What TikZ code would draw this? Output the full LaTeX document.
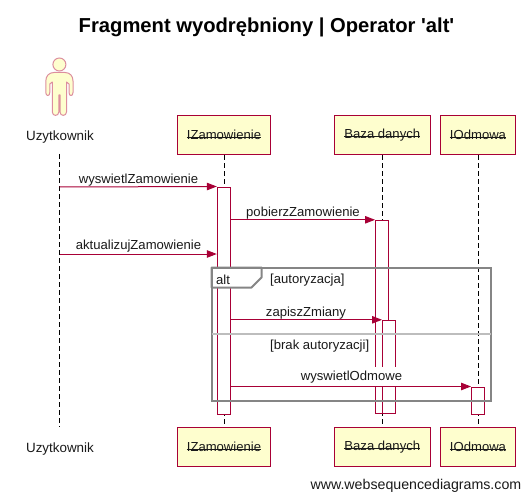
\documentclass[tikz,border=0pt]{standalone}
\usepackage{xcolor}
\usepackage{fontspec}
\setmainfont{Liberation Sans}
\usetikzlibrary{arrows.meta,positioning}

\definecolor{seqline}{HTML}{A80036}
\definecolor{seqfill}{HTML}{FEFECE}
\definecolor{actorline}{HTML}{DC8E9E}
\definecolor{framegray}{HTML}{858585}
\definecolor{splitgray}{HTML}{BDBDBD}

\newcommand{\strikelabel}[1]{\setbox0\hbox{#1}\rlap{\rule[1.5pt]{\wd0}{0.9pt}}\box0}

\tikzset{
    txt/.style = {inner sep=0pt,font=\fontsize{13.1}{15}\selectfont,text=black!90},
    usertxt/.style = {txt,font=\fontsize{13.4}{15}\selectfont},
    objbox/.style = {draw=seqline,fill=seqfill,line width=1pt,minimum height=39pt,inner sep=0pt,
        font=\fontsize{13.1}{15}\selectfont,text=black!90},
    lifeline/.style = {draw=black,line width=1pt,dash pattern=on 4.5pt off 3.5pt},
    actbar/.style = {draw=seqline,fill=white,line width=1pt,minimum width=13pt,inner sep=0pt},
    msg/.style = {draw=seqline,line width=1pt,-{Triangle[length=10pt,width=7.5pt,fill=seqline]}}
}

\begin{document}
\begin{tikzpicture}[x=1pt,y=-1pt]
    \useasboundingbox (0,0) rectangle (530,500);

    \node[font=\fontsize{20.2}{24}\bfseries\selectfont] (title) at (266.5,27) {Fragment wyodrębniony | Operator \textquotesingle alt\textquotesingle};

    % actor
    \draw[draw=actorline,fill=seqfill,line width=1pt]
        (59.4,64.5) circle (6.5);
    \draw[draw=actorline,fill=seqfill,line width=1pt,line join=round]
        (54,72.5) -- (65,72.5) .. controls (70,72.5) and (73,76) .. (73,81)
        -- (73,92.5) .. controls (73,96.5) and (69,96.5) .. (69,92.5) -- (69,84) -- (66.5,82)
        -- (66.5,112) .. controls (66.5,116.5) and (60,116.5) .. (60,112) -- (60,95) -- (58.8,95) -- (58.8,112)
        .. controls (58.8,116.5) and (52.3,116.5) .. (52.3,112) -- (52.3,82) -- (49.8,84) -- (49.8,92.5)
        .. controls (49.8,96.5) and (45.8,96.5) .. (45.8,92.5) -- (45.8,81) .. controls (45.8,76) and (49,72.5) .. (54,72.5) -- cycle;

    % top row
    \node[usertxt] (userTop) at (60,137) {Uzytkownik};
    \node[objbox,minimum width=93pt] (zamTop) at (224,135) {\strikelabel{IZamowienie}};
    \node[objbox,minimum width=96pt] (bazaTop) at (382.3,135) {\strikelabel{Baza danych}};
    \node[objbox,minimum width=75pt] (odmTop) at (478,135) {\strikelabel{IOdmowa}};

    % bottom row
    \node[usertxt] (userBot) at (60,449) {Uzytkownik};
    \node[objbox,minimum width=93pt] (zamBot) at (224,447) {\strikelabel{IZamowienie}};
    \node[objbox,minimum width=96pt] (bazaBot) at (382.3,447) {\strikelabel{Baza danych}};
    \node[objbox,minimum width=75pt] (odmBot) at (478,447) {\strikelabel{IOdmowa}};

    \coordinate (userA) at (59.5,154);
    \coordinate (userB) at (59.5,427);
    \draw[lifeline] (userA) -- (userB);
    \draw[lifeline] (zamTop.south -| 224.5,0) -- (zamBot.north -| 224.5,0);
    \draw[lifeline] (bazaTop.south -| 382.3,0) -- (bazaBot.north -| 382.3,0);
    \draw[lifeline] (odmTop.south -| 478.5,0) -- (odmBot.north -| 478.5,0);

    % activations
    \node[actbar,minimum height=227pt] (zamAct) at (223.8,300.5) {};
    \node[actbar,minimum height=193pt] (bazaAct) at (382,316.8) {};
    \node[actbar,minimum height=93pt] (zapAct) at (389,366.8) {};
    \node[actbar,minimum height=27pt] (odmAct) at (478,400.5) {};

    % messages
    \coordinate (user1) at (59.5,187);
    \coordinate (user2) at (59.5,254);
    \draw[msg] (user1) -- (zamAct.north west);
    \draw[msg] (zamAct.east |- bazaAct.north) -- (bazaAct.north west);
    \draw[msg] (user2) -- (zamAct.west |- user2);
    \draw[msg] (zamAct.east |- zapAct.north) -- (zapAct.north west);
    \node[txt] (showZamTxt) at (138.5,180) {wyswietlZamowienie};
    \node[txt] (getZamTxt) at (303,213) {pobierzZamowienie};
    \node[txt] (updZamTxt) at (138.5,246) {aktualizujZamowienie};
    \node[txt] (saveTxt) at (306,313) {zapiszZmiany};
    \node[txt,fill=white,minimum height=20pt] (showOdmTxt) at (351.5,377) {wyswietlOdmowe};
    \draw[msg] (zamAct.east |- odmAct.north) -- (odmAct.north west);

    % alt frame
    \coordinate (frameA) at (211.5,267.5);
    \coordinate (frameB) at (490.5,400.5);
    \draw[draw=framegray,fill=white,line width=2pt,line join=round]
        (frameA) -- (261.5,267.5) -- (261.5,277.5) -- (251.5,287.5) -- (211.5,287.5) -- cycle;
    \draw[draw=framegray,line width=2pt] (frameA) rectangle (frameB);
    \draw[draw=splitgray,line width=1.5pt] (frameA |- 0,334) -- (frameB |- 0,334);
    \node[txt] (altTxt) at (223,280) {alt};
    \node[txt,anchor=west] (authTxt) at (270,280) {[autoryzacja]};
    \node[txt,anchor=west] (noAuthTxt) at (270,346) {[brak autoryzacji]};

    \node[inner sep=0pt,font=\fontsize{14.2}{16}\selectfont,text=black!90,anchor=east] (siteTxt) at (521.5,486) {www.websequencediagrams.com};
\end{tikzpicture}
\end{document}
